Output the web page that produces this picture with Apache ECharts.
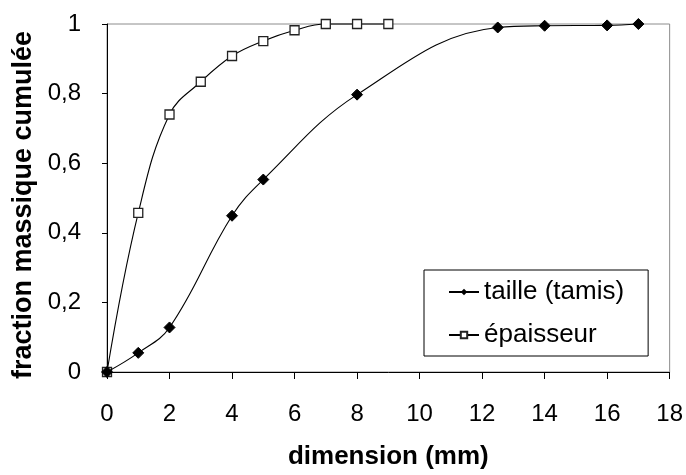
<!DOCTYPE html>
<html>
<head>
<meta charset="utf-8">
<script src="https://cdn.jsdelivr.net/npm/echarts@6/dist/echarts.min.js"></script>
<style>
  html, body { margin: 0; padding: 0; background: #fff; }
  #chart { width: 686px; height: 475px; }
</style>
</head>
<body>
<div id="chart"></div>
<script>
// data
var tailleX = [0, 1, 2, 4, 5, 8, 12.5, 14, 16, 17];
var tailleY = [0, 0.055, 0.128, 0.449, 0.553, 0.797, 0.99, 0.995, 0.996, 1.0];
var epaisseurX = [0, 1, 2, 3, 4, 5, 6, 7, 8, 9];
var epaisseurY = [0, 0.457, 0.74, 0.834, 0.908, 0.951, 0.982, 1.0, 1.0, 1.0];
var xTicks = [0, 2, 4, 6, 8, 10, 12, 14, 16, 18];
var yTicks = [0, 0.2, 0.4, 0.6, 0.8, 1];

function pairs(xs, ys) {
  return xs.map(function (x, i) { return [x, ys[i]]; });
}

var font = "'Liberation Sans', Arial, sans-serif";

var chartDom = document.getElementById('chart');
var myChart = echarts.init(chartDom);
var option;

option = {
  animation: false,
  textStyle: { fontFamily: font },
  grid: {
    left: 107, right: 16, top: 24, bottom: 97,
    show: true, borderColor: '#8c8c8c', borderWidth: 1
  },
  legend: {
    orient: 'vertical',
    left: 424, top: 270,
    padding: [9, 24, 8, 24],
    itemGap: 17,
    itemWidth: 30, itemHeight: 8,
    borderColor: '#000', borderWidth: 1,
    backgroundColor: '#fff',
    textStyle: { fontFamily: font, fontSize: 26, color: '#000' },
    data: ['taille (tamis)', 'épaisseur']
  },
  xAxis: {
    type: 'value',
    min: xTicks[0], max: xTicks[xTicks.length - 1], interval: 2,
    name: 'dimension (mm)',
    nameLocation: 'middle', nameGap: 72,
    nameTextStyle: { fontFamily: font, fontSize: 26, fontWeight: 'bold', color: '#000' },
    axisLine: { lineStyle: { color: '#000', width: 1 } },
    axisTick: { show: true, inside: false, length: 7, lineStyle: { color: '#000' } },
    axisLabel: { margin: 30, fontFamily: font, fontSize: 24, color: '#000' },
    splitLine: { show: false }
  },
  yAxis: {
    type: 'value',
    min: yTicks[0], max: yTicks[yTicks.length - 1], interval: 0.2,
    name: 'fraction massique cumulée',
    nameLocation: 'middle', nameGap: 70,
    nameTextStyle: {
      fontFamily: font, fontSize: 27, fontWeight: 'bold', color: '#000',
      padding: [0, 14, 0, 0]
    },
    axisLine: { show: true, lineStyle: { color: '#000', width: 1 } },
    axisTick: { show: true, inside: false, length: 5, lineStyle: { color: '#000' } },
    axisLabel: {
      margin: 26, fontFamily: font, fontSize: 24, color: '#000',
      formatter: function (v) { return String(Math.round(v * 10) / 10).replace('.', ','); }
    },
    splitLine: { show: false }
  },
  series: [
    {
      name: 'taille (tamis)',
      type: 'line',
      smooth: 0.4,
      clip: false,
      symbol: 'diamond',
      symbolSize: 11,
      lineStyle: { color: '#000', width: 1.1 },
      itemStyle: { color: '#000', borderColor: '#000' },
      data: pairs(tailleX, tailleY),
      z: 3
    },
    {
      name: 'épaisseur',
      type: 'line',
      smooth: 0.4,
      clip: false,
      symbol: 'rect',
      symbolSize: 9,
      lineStyle: { color: '#000', width: 1.1 },
      itemStyle: { color: '#fff', borderColor: '#222', borderWidth: 1.3 },
      data: pairs(epaisseurX, epaisseurY),
      z: 2
    }
  ]
};

if (option && typeof option === 'object') {
  myChart.setOption(option);
}
</script>
</body>
</html>
